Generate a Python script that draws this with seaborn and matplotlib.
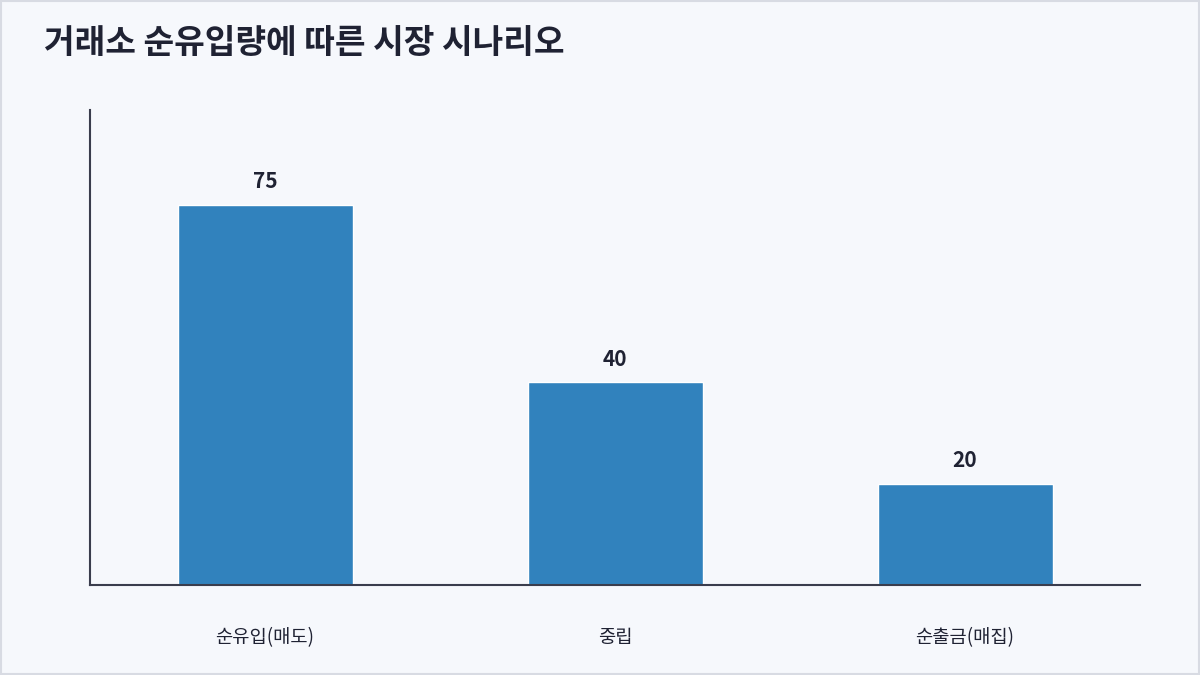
import matplotlib
matplotlib.use('Agg')
import matplotlib.pyplot as plt
import seaborn as sns
from matplotlib.patches import Rectangle

categories = ['순유입(매도)', '중립', '순출금(매집)']
values = [75, 40, 20]

sns.set_style('white')
plt.rcParams['font.family'] = ['Noto Sans CJK KR', 'DejaVu Sans']

bg = '#f6f8fc'
fig = plt.figure(figsize=(12, 6.75), dpi=100, facecolor=bg)
ax = fig.add_axes([0.075, 0.133, 0.875, 0.704])
ax.set_facecolor(bg)

sns.barplot(x=categories, y=values, color='#3182bd', saturation=1, width=0.5, ax=ax)
ax.set_ylim(0, 93.75)
ax.set_xlim(-0.5, 2.5)

for i, v in enumerate(values):
    ax.text(i, v + 2.5, str(v), ha='center', va='bottom', fontsize=15,
            fontweight='bold', color='#1f2233')

ax.set_yticks([])
ax.tick_params(axis='x', length=0, pad=30, labelsize=13.5, colors='#1f2233')
for s in ['top', 'right']:
    ax.spines[s].set_visible(False)
for s in ['left', 'bottom']:
    ax.spines[s].set_color('#3a3d4d')
    ax.spines[s].set_linewidth(1.5)

fig.text(0.037, 0.935, '거래소 순유입량에 따른 시장 시나리오', fontsize=24,
         fontweight='bold', color='#1f2233', va='center')
fig.patches.append(Rectangle((0.001, 0.001), 0.998, 0.997, transform=fig.transFigure,
                             fill=False, edgecolor='#d8dbe3', linewidth=1.5))

fig.savefig('out.png', dpi=100, facecolor=bg)
